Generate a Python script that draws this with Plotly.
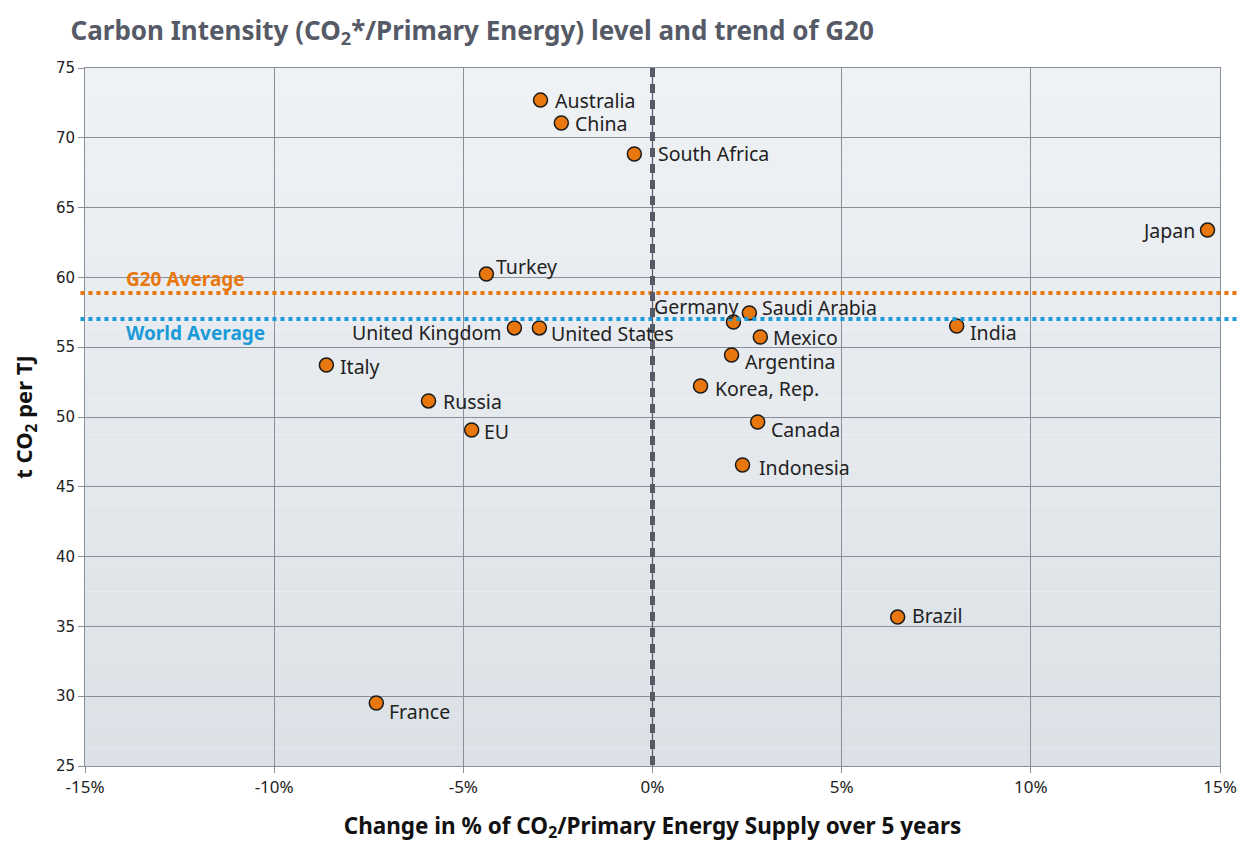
import plotly.graph_objects as go

countries = ["Australia", "China", "South Africa", "Japan", "Turkey", "Germany", "Saudi Arabia",
             "United Kingdom", "United States", "Mexico", "India", "Argentina", "Italy",
             "Korea, Rep.", "Russia", "Canada", "EU", "Indonesia", "Brazil", "France"]
change_pct = [-2.96, -2.41, -0.48, 14.67, -4.39, 2.14, 2.56, -3.65, -2.99, 2.85, 8.04, 2.09,
              -8.62, 1.27, -5.92, 2.78, -4.78, 2.38, 6.48, -7.30]
intensity = [72.7, 71.06, 68.84, 63.39, 60.24, 56.8, 57.45, 56.38, 56.38, 55.73, 56.52, 54.44,
             53.72, 52.22, 51.15, 49.64, 49.07, 46.56, 35.67, 29.51]
g20_average = 58.88
world_average = 57.02
x_ticks = [-15, -10, -5, 0, 5, 10, 15]
x_tick_labels = ["-15%", "-10%", "-5%", "0%", "5%", "10%", "15%"]
y_ticks = [25, 30, 35, 40, 45, 50, 55, 60, 65, 70, 75]

FONT = "Source Sans Pro, Noto Sans, Open Sans, sans-serif"
ORANGE = "#e8770d"
BLUE = "#1a9bd7"
GRID = "#8a8e9a"
DARK = "#555a66"

# label placement (styling): (xanchor, xshift, yshift)
label_style = {
    "Australia": ("left", 12, 0), "China": ("left", 12, 0), "South Africa": ("left", 22, 0),
    "Japan": ("right", -11, 0), "Turkey": ("left", 8, 8), "Germany": ("right", 7, 16),
    "Saudi Arabia": ("left", 11, 6), "United Kingdom": ("right", -10, -5),
    "United States": ("left", 10, -6), "Mexico": ("left", 11, 0), "India": ("left", 11, -7),
    "Argentina": ("left", 11, -6), "Italy": ("left", 12, -1), "Korea, Rep.": ("left", 12, -2),
    "Russia": ("left", 12, -1), "Canada": ("left", 11, -7), "EU": ("left", 10, -2),
    "Indonesia": ("left", 14, -2), "Brazil": ("left", 12, 2), "France": ("left", 11, -8),
}

fig = go.Figure()

# gradient background
n = 40
top = (239, 242, 245)
bot = (219, 225, 230)
shapes = []
for i in range(n):
    t = i / (n - 1)
    c = tuple(round(top[k] + (bot[k] - top[k]) * t) for k in range(3))
    shapes.append(dict(type="rect", xref="paper", yref="paper", x0=0, x1=1,
                       y1=1 - i / n, y0=1 - (i + 1) / n, line=dict(width=0),
                       fillcolor="rgb(%d,%d,%d)" % c, layer="below"))

# average lines
shapes.append(dict(type="line", xref="paper", yref="y", x0=-0.004, x1=1.018,
                   y0=g20_average, y1=g20_average, line=dict(color=ORANGE, width=4, dash="dot")))
shapes.append(dict(type="line", xref="paper", yref="y", x0=-0.004, x1=1.018,
                   y0=world_average, y1=world_average, line=dict(color=BLUE, width=4, dash="dot")))
# zero line: thin solid + thick dashes
shapes.append(dict(type="line", xref="x", yref="paper", x0=0, x1=0, y0=0, y1=1,
                   line=dict(color=DARK, width=1.2)))
shapes.append(dict(type="line", xref="x", yref="paper", x0=0, x1=0, y0=1, y1=0,
                   line=dict(color=DARK, width=5, dash="9px,7px")))

fig.add_trace(go.Scatter(
    x=change_pct, y=intensity, mode="markers",
    marker=dict(size=14, color=ORANGE, line=dict(color="#1a1a1a", width=1.5)),
    hovertext=countries, showlegend=False, cliponaxis=False))

annotations = []
for name, xv, yv in zip(countries, change_pct, intensity):
    xa, xs, ys = label_style[name]
    annotations.append(dict(x=xv, y=yv, xref="x", yref="y", text=name, showarrow=False,
                            xanchor=xa, yanchor="middle", xshift=xs, yshift=ys,
                            font=dict(family=FONT, size=19.5, color="#222222")))
annotations.append(dict(x=-13.97, y=g20_average, xref="x", yref="y", text="<b>G20 Average</b>",
                        showarrow=False, xanchor="left", yanchor="middle", yshift=14,
                        font=dict(family=FONT, size=19, color=ORANGE)))
annotations.append(dict(x=-13.97, y=world_average, xref="x", yref="y", text="<b>World Average</b>",
                        showarrow=False, xanchor="left", yanchor="middle", yshift=-14,
                        font=dict(family=FONT, size=19, color=BLUE)))

fig.update_layout(
    width=1250, height=841,
    margin=dict(l=77, r=38, t=60, b=83),
    paper_bgcolor="white", plot_bgcolor="rgba(0,0,0,0)",
    title=dict(text="<b>Carbon Intensity (CO<sub>2</sub>*/Primary Energy) level and trend of G20</b>",
               x=0.05, xanchor="left", y=0.973, yanchor="middle",
               font=dict(family=FONT, size=26, color=DARK)),
    shapes=shapes, annotations=annotations,
    xaxis=dict(range=[-15, 15], tickvals=x_ticks, ticktext=x_tick_labels,
               showgrid=True, gridcolor=GRID, gridwidth=1, zeroline=False,
               showline=True, linecolor=GRID, linewidth=1, mirror=True,
               ticks="outside", ticklen=6, tickcolor=GRID,
               tickfont=dict(family=FONT, size=17, color="#222222"),
               title=dict(text="<b>Change in % of CO<sub>2</sub>/Primary Energy Supply over 5 years</b>",
                          font=dict(family=FONT, size=22.5, color="#111111"), standoff=20)),
    yaxis=dict(range=[25, 75], tickvals=y_ticks,
               showgrid=True, gridcolor=GRID, gridwidth=1, zeroline=False,
               showline=True, linecolor=GRID, linewidth=1, mirror=True,
               ticks="outside", ticklen=6, tickcolor=GRID,
               tickfont=dict(family="DejaVu Sans, Verdana, sans-serif", size=15, color="#222222"),
               title=dict(text="<b>t CO<sub>2</sub> per TJ</b>",
                          font=dict(family=FONT, size=22, color="#111111"), standoff=18)),
)

fig.write_html("out.html")
